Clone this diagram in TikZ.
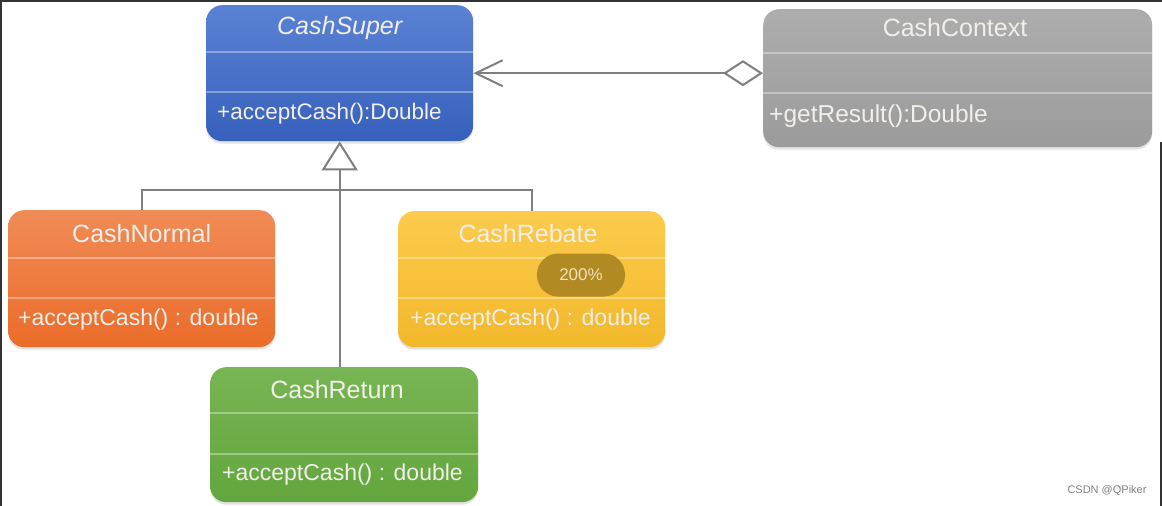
\documentclass[tikz,border=0pt]{standalone}
\usepackage{fontspec}
\setmainfont{Liberation Sans}
\usetikzlibrary{arrows.meta,shadows}
\definecolor{supT}{HTML}{5A82D3}
\definecolor{supB}{HTML}{3760BD}
\definecolor{ctxT}{HTML}{ADADAD}
\definecolor{ctxB}{HTML}{9B9B9B}
\definecolor{nrmT}{HTML}{F08B56}
\definecolor{nrmB}{HTML}{EB6C29}
\definecolor{rbtT}{HTML}{FCCB4C}
\definecolor{rbtB}{HTML}{F2B82B}
\definecolor{retT}{HTML}{78B554}
\definecolor{retB}{HTML}{62A63D}
\definecolor{linecol}{HTML}{7F7F7F}
\definecolor{txtcol}{HTML}{F2EFEA}
\definecolor{badgecol}{HTML}{B18A23}
\definecolor{badgetxt}{HTML}{EFE2BC}
\definecolor{framecol}{HTML}{333333}
\begin{document}
\begin{tikzpicture}[x=1pt,y=-1pt,
  cls/.style={rounded corners=16pt, draw=none, inner sep=0pt, anchor=north west,
    drop shadow={opacity=0.22,shadow xshift=0pt,shadow yshift=-2.5pt}},
  divline/.style={draw=white, draw opacity=0.35, line width=1.2pt},
  ttl/.style={text=txtcol, inner sep=0pt, font=\fontsize{25}{28}\selectfont},
  mth/.style={text=txtcol, inner sep=0pt, anchor=west, font=\fontsize{23}{26}\selectfont},
  conn/.style={draw=linecol, line width=2pt},
  badge/.style={fill=badgecol, rounded corners=21pt, minimum width=88pt, minimum height=43pt, inner sep=0pt,
    text=badgetxt, font=\fontsize{17}{19}\selectfont}
]
\useasboundingbox (0,0) rectangle (1162,506);
\fill[white] (0,0) rectangle (1162,506);
\fill[framecol] (0,0) rectangle (2,506);
\fill[framecol] (0,0) rectangle (1162,2);
\fill[framecol] (1160,142) rectangle (1162,506);

% CashSuper
\node[cls, top color=supT, bottom color=supB, minimum width=267pt, minimum height=136pt] (super) at (206,5) {};
\draw[divline] (super.west |- 0,52) -- (super.east |- 0,52);
\draw[divline] (super.west |- 0,92) -- (super.east |- 0,92);
\node[ttl] (superT) at (super.north |- 0,28) {\itshape CashSuper};
\node[mth, font=\fontsize{22.5}{26}\selectfont] (superM) at (217,114) {+acceptCash():Double};

% CashContext
\node[cls, top color=ctxT, bottom color=ctxB, minimum width=389pt, minimum height=138pt] (ctx) at (763,9) {};
\draw[divline] (ctx.west |- 0,53) -- (ctx.east |- 0,53);
\draw[divline] (ctx.west |- 0,93) -- (ctx.east |- 0,93);
\node[ttl] (ctxT) at (955,28) {CashContext};
\node[mth, font=\fontsize{24.5}{27}\selectfont] (ctxM) at (769,116) {+getResult():Double};

% CashNormal
\node[cls, top color=nrmT, bottom color=nrmB, minimum width=267pt, minimum height=137pt] (nrm) at (8,210) {};
\draw[divline] (nrm.west |- 0,258) -- (nrm.east |- 0,258);
\draw[divline] (nrm.west |- 0,298) -- (nrm.east |- 0,298);
\node[ttl] (nrmT) at (nrm.north |- 0,234) {CashNormal};
\node[mth] (nrmM) at (18,320) {+acceptCash() : double};

% CashRebate
\node[cls, top color=rbtT, bottom color=rbtB, minimum width=267pt, minimum height=136pt] (rbt) at (398,211) {};
\draw[divline] (rbt.west |- 0,258) -- (rbt.east |- 0,258);
\draw[divline] (rbt.west |- 0,298) -- (rbt.east |- 0,298);
\node[ttl] (rbtT) at (528,234) {CashRebate};
\node[mth] (rbtM) at (410,320) {+acceptCash() : double};
\node[badge] (pct) at (581,275) {200\%};

% CashReturn
\node[cls, top color=retT, bottom color=retB, minimum width=268pt, minimum height=135pt] (ret) at (210,367) {};
\draw[divline] (ret.west |- 0,413) -- (ret.east |- 0,413);
\draw[divline] (ret.west |- 0,454) -- (ret.east |- 0,454);
\node[ttl] (retT) at (337,390) {CashReturn};
\node[mth] (retM) at (222,475) {+acceptCash() : double};

% connectors
\draw[conn, {Diamond[open,length=40pt,width=26pt]}-{Straight Barb[length=27pt,width=26pt]}]
  (super.east -| ctx.west) -- (super.east);
\draw[conn, -{Triangle[open,length=29pt,width=36pt]}] (super.south |- ret.north) -- (super.south);
\draw[conn] (nrm.north) -- (nrm.north |- 0,190) -- (rbt.north |- 0,190) -- (rbt.north);

\node[text=gray, inner sep=0pt, font=\fontsize{11}{13}\selectfont] (wm) at (1107,491) {CSDN @QPiker};
\end{tikzpicture}
\end{document}
